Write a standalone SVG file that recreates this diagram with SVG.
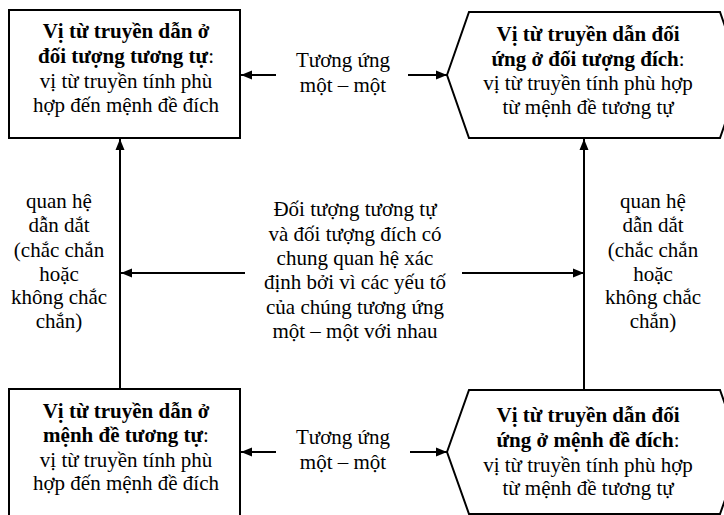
<svg xmlns="http://www.w3.org/2000/svg" width="724" height="515" viewBox="0 0 724 515">
<style>
.bg{fill:#ffffff}
.node{fill:#ffffff;stroke:#000000;stroke-width:2}
.t{font-family:"Liberation Serif","Times New Roman",serif;font-size:21px;fill:#000000;text-anchor:middle}
.b{font-weight:bold}
.c{stroke:#000000;stroke-width:2;fill:none;marker-end:url(#ah)}
</style>
<defs>
<marker id="ah" markerUnits="userSpaceOnUse" markerWidth="12" markerHeight="10" refX="11" refY="5" orient="auto">
<path d="M0,0.5 L11,5 L0,9.5 z" fill="#000000"/>
</marker>
</defs>
<rect class="bg" x="0" y="0" width="724" height="515"/>
<g id="connectors">
<line class="c" x1="276" y1="75" x2="241" y2="75"/>
<line class="c" x1="408" y1="75" x2="447" y2="75"/>
<line class="c" x1="276" y1="452" x2="241" y2="452"/>
<line class="c" x1="410" y1="452" x2="447" y2="452"/>
<line class="c" x1="120" y1="389" x2="120" y2="139"/>
<line class="c" x1="584" y1="390" x2="584" y2="139"/>
<line class="c" x1="245" y1="273" x2="121" y2="273"/>
<line class="c" x1="462" y1="273" x2="584" y2="273"/>
</g>
<g id="node-tl">
<rect class="node" x="9" y="10" width="231" height="128"/>
<text class="t" x="126" y="38"><tspan class="b">Vị từ truyền dẫn ở</tspan></text>
<text class="t" x="126" y="63"><tspan class="b">đối tượng tương tự</tspan>:</text>
<text class="t" x="126" y="88">vị từ truyền tính phù</text>
<text class="t" x="126" y="112">hợp đến mệnh đề đích</text>
</g>
<g id="node-tr">
<polygon class="node" points="447,75 469,12 720,12 742,75 720,138 469,138"/>
<text class="t" x="588" y="41"><tspan class="b">Vị từ truyền dẫn đối</tspan></text>
<text class="t" x="588" y="66"><tspan class="b">ứng ở đối tượng đích</tspan>:</text>
<text class="t" x="588" y="90">vị từ truyền tính phù hợp</text>
<text class="t" x="588" y="114">từ mệnh đề tương tự</text>
</g>
<g id="node-bl">
<rect class="node" x="9" y="389" width="231" height="140"/>
<text class="t" x="126" y="418"><tspan class="b">Vị từ truyền dẫn ở</tspan></text>
<text class="t" x="126" y="442"><tspan class="b">mệnh đề tương tự</tspan>:</text>
<text class="t" x="126" y="467">vị từ truyền tính phù</text>
<text class="t" x="126" y="490">hợp đến mệnh đề đích</text>
</g>
<g id="node-br">
<polygon class="node" points="447,452 469,390 720,390 742,452 720,514 469,514"/>
<text class="t" x="588" y="422"><tspan class="b">Vị từ truyền dẫn đối</tspan></text>
<text class="t" x="588" y="447"><tspan class="b">ứng ở mệnh đề đích</tspan>:</text>
<text class="t" x="588" y="472">vị từ truyền tính phù hợp</text>
<text class="t" x="588" y="495">từ mệnh đề tương tự</text>
</g>
<g id="label-top">
<text class="t" x="343" y="67">Tương ứng</text>
<text class="t" x="343" y="92">một – một</text>
</g>
<g id="label-bottom">
<text class="t" x="343" y="444">Tương ứng</text>
<text class="t" x="343" y="469">một – một</text>
</g>
<g id="label-left">
<text class="t" x="59" y="208">quan hệ</text>
<text class="t" x="59" y="232">dẫn dắt</text>
<text class="t" x="59" y="257">(chắc chắn</text>
<text class="t" x="59" y="281">hoặc</text>
<text class="t" x="59" y="304">không chắc</text>
<text class="t" x="59" y="328">chắn)</text>
</g>
<g id="label-right">
<text class="t" x="653" y="208">quan hệ</text>
<text class="t" x="653" y="232">dẫn dắt</text>
<text class="t" x="653" y="257">(chắc chắn</text>
<text class="t" x="653" y="281">hoặc</text>
<text class="t" x="653" y="304">không chắc</text>
<text class="t" x="653" y="328">chắn)</text>
</g>
<g id="label-middle">
<text class="t" x="355" y="216">Đối tượng tương tự</text>
<text class="t" x="355" y="241">và đối tượng đích có</text>
<text class="t" x="355" y="265">chung quan hệ xác</text>
<text class="t" x="355" y="289">định bởi vì các yếu tố</text>
<text class="t" x="355" y="314">của chúng tương ứng</text>
<text class="t" x="355" y="338">một – một với nhau</text>
</g>
</svg>
